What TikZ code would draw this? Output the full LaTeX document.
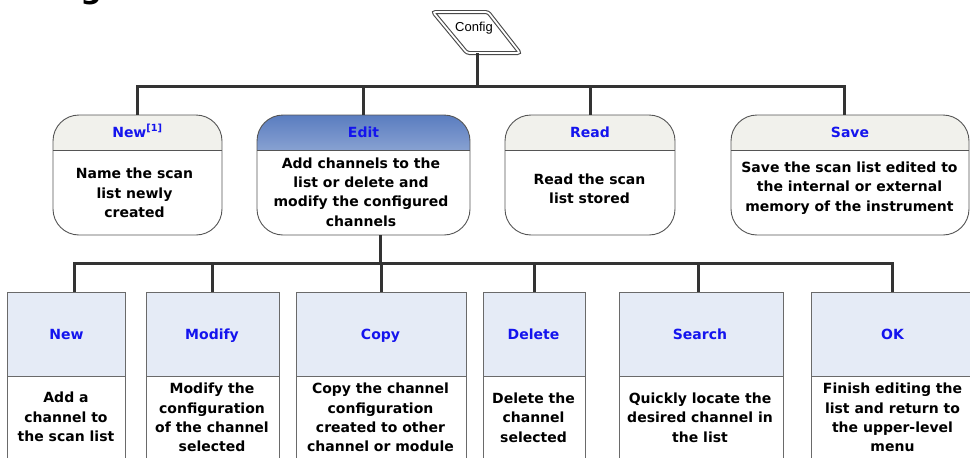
\documentclass[tikz,border=0pt]{standalone}
\usepackage{fontspec}
\setmainfont{DejaVu Sans}
\newfontfamily\cfgfont{Liberation Sans}
\usetikzlibrary{calc}
\definecolor{connc}{HTML}{333333}
\definecolor{ttl}{HTML}{1414EE}
\definecolor{hdrgray}{HTML}{F1F1EC}
\definecolor{hdrblue}{HTML}{E5EBF6}
\definecolor{editblue}{HTML}{5A7DC0}
\definecolor{bordc}{HTML}{555555}
\definecolor{bordb}{HTML}{6A6A6A}
\definecolor{cfgc}{HTML}{4A4A4A}
\tikzset{
  conn/.style={draw=connc, line width=3pt},
  topbox/.style={draw=bordc, line width=0.9pt, rounded corners=26pt, fill=white, inner sep=0pt, minimum height=120pt},
  tophdr/.style={path picture={
     \fill[#1, sharp corners] (path picture bounding box.north west) rectangle ([yshift=-35pt]path picture bounding box.north east);
     \draw[bordc, line width=0.9pt, sharp corners] ([yshift=-35pt]path picture bounding box.north west) -- ([yshift=-35pt]path picture bounding box.north east);}},
  edithdr/.style={path picture={
     \shade[top color=editblue, bottom color=editblue!6, sharp corners] (path picture bounding box.north west) rectangle ([yshift=-35pt]path picture bounding box.north east);
     \draw[bordc, line width=0.9pt, sharp corners] ([yshift=-35pt]path picture bounding box.north west) -- ([yshift=-35pt]path picture bounding box.north east);}},
  botbox/.style={draw=bordb, line width=0.9pt, fill=white, inner sep=0pt, minimum height=173pt,
     path picture={
     \fill[hdrblue] (path picture bounding box.north west) rectangle ([yshift=-84pt]path picture bounding box.north east);
     \draw[bordb, line width=0.9pt] ([yshift=-84pt]path picture bounding box.north west) -- ([yshift=-84pt]path picture bounding box.north east);}},
  ttlstyle/.style={font=\fontsize{14}{17}\selectfont\bfseries, text=ttl, inner sep=0pt, anchor=base},
  bodystyle/.style={font=\fontsize{14}{19.4}\selectfont\bfseries, align=center, inner sep=0pt, text=black},
}
\begin{document}
\begin{tikzpicture}[x=1pt,y=-1pt]
\useasboundingbox (0,0) rectangle (970,458);
\fill[white] (0,0) rectangle (970,458);

% cropped heading fragment
\node[font=\fontsize{30}{30}\selectfont\bfseries, anchor=base, inner sep=0pt] (ghead) at (91,-2) {g};

% Config parallelogram
\draw[draw=cfgc, line width=1.1pt, double=white, double distance=1.8pt, rounded corners=2.5pt]
  (433,12) -- (488,12) -- (520,53) -- (467,53) -- cycle;
\node[font=\cfgfont\fontsize{13}{14}\selectfont, inner sep=0pt] (cfg) at (474,28) {Config};
\coordinate (cfgbot) at (477,53);
\coordinate (bus1) at (477,86);

% top row
\node[topbox, tophdr=hdrgray, minimum width=169pt] (tnew) at (137.5,175) {};
\node[topbox, edithdr, minimum width=213pt] (tedit) at (363.5,175) {};
\node[topbox, tophdr=hdrgray, minimum width=170pt] (tread) at (590,175) {};
\node[topbox, tophdr=hdrgray, minimum width=238pt] (tsave) at (850,175) {};

\node[ttlstyle] (tnewt) at (137.5,137) {New\textsuperscript{[1]}};
\node[ttlstyle] (teditt) at (363.5,137) {Edit};
\node[ttlstyle] (treadt) at (590,137) {Read};
\node[ttlstyle] (tsavet) at (850,137) {Save};

\node[bodystyle] (tnewb) at (134.5,193) {Name the scan\\list newly\\created};
\node[bodystyle] (teditb) at (361,192) {Add channels to the\\list or delete and\\modify the configured\\channels};
\node[bodystyle] (treadb) at (589.5,188.5) {Read the scan\\list stored};
\node[bodystyle] (tsaveb) at (849.5,188) {Save the scan list edited to\\the internal or external\\memory of the instrument};

% bottom row
\node[botbox, minimum width=118pt] (bnew) at (66,378.5) {};
\node[botbox, minimum width=133pt] (bmod) at (212.5,378.5) {};
\node[botbox, minimum width=170pt] (bcopy) at (381,378.5) {};
\node[botbox, minimum width=102pt] (bdel) at (534,378.5) {};
\node[botbox, minimum width=164pt] (bsearch) at (701,378.5) {};
\node[botbox, minimum width=163pt] (bok) at (892.5,378.5) {};

\node[ttlstyle] (bnewt) at (66.5,339) {New};
\node[ttlstyle] (bmodt) at (212,339) {Modify};
\node[ttlstyle] (bcopyt) at (380.5,339) {Copy};
\node[ttlstyle] (bdelt) at (533.5,339) {Delete};
\node[ttlstyle] (bsearcht) at (700,339) {Search};
\node[ttlstyle] (bokt) at (892.5,339) {OK};

\node[bodystyle] (bnewb) at (66,417) {Add a\\channel to\\the scan list};
\node[bodystyle] (bmodb) at (212,417.5) {Modify the\\configuration\\of the channel\\selected};
\node[bodystyle] (bcopyb) at (380.5,417.5) {Copy the channel\\configuration\\created to other\\channel or module};
\node[bodystyle] (bdelb) at (533.5,417.5) {Delete the\\channel\\selected};
\node[bodystyle] (bsearchb) at (700,417.5) {Quickly locate the\\desired channel in\\the list};
\node[bodystyle] (bokb) at (892.5,417.5) {Finish editing the\\list and return to\\the upper-level\\menu};

% connectors, top level
\coordinate (savestub) at ([xshift=-6pt]tsave.north);
\draw[conn] (cfgbot) -- (bus1);
\draw[conn] (tnew.north) -- (tnew.north |- bus1) -- (savestub |- bus1) -- (savestub);
\draw[conn] (tedit.north) -- (tedit.north |- bus1);
\draw[conn] (tread.north) -- (tread.north |- bus1);

% connectors, edit level
\coordinate (bus2) at (380,263);
\coordinate (bnewstub) at ([xshift=8pt]bnew.north);
\coordinate (bsearchstub) at ([xshift=-3pt]bsearch.north);
\draw[conn] (tedit.south -| bus2) -- (bus2);
\draw[conn] (bnewstub) -- (bnewstub |- bus2) -- (bok.north |- bus2) -- (bok.north);
\draw[conn] (bmod.north) -- (bmod.north |- bus2);
\draw[conn] (bcopy.north) -- (bcopy.north |- bus2);
\draw[conn] (bdel.north) -- (bdel.north |- bus2);
\draw[conn] (bsearchstub) -- (bsearchstub |- bus2);
\end{tikzpicture}
\end{document}
